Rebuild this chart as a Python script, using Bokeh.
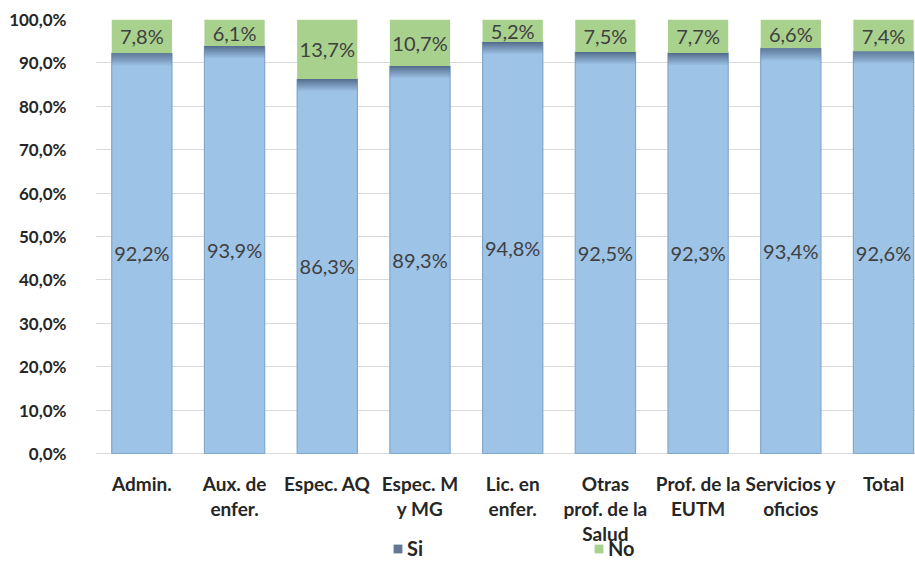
from bokeh.plotting import figure
from bokeh.models import (ColumnDataSource, Range1d, FixedTicker, Legend, LegendItem)
from bokeh.core.properties import value
from bokeh.embed import file_html
from bokeh.resources import INLINE

# Survey answer shares by staff group (percent)
categories = ["Admin.", "Aux. de\nenfer.", "Espec. AQ", "Espec. M\ny MG", "Lic. en\nenfer.",
              "Otras\nprof. de la\nSalud", "Prof. de la\nEUTM", "Servicios y\noficios", "Total"]
si_values = [92.2, 93.9, 86.3, 89.3, 94.8, 92.5, 92.3, 93.4, 92.6]
no_values = [7.8, 6.1, 13.7, 10.7, 5.2, 7.5, 7.7, 6.6, 7.4]
y_ticks = [0, 10, 20, 30, 40, 50, 60, 70, 80, 90, 100]

BLUE = "#9dc3e6"
BLUE_EDGE = "#82a8cc"
GREEN = "#a9d18e"
SLATE = "#4d6483"
LABEL = "#404040"
AXIS_TXT = "#262626"
FONT = "Lato"

W, H = 915, 563
TOP, LEFT = 19, 95
SCALE_PX = 434            # pixels spanned by 0..100 %
BELOW_PX = H - TOP - SCALE_PX   # room under the 0 % line for category names
px = 100 / SCALE_PX       # one pixel in percent units

def pct(v):
    return f"{v:.1f}".replace(".", ",") + "%"

xs = list(range(len(categories)))
no_top = [s + n for s, n in zip(si_values, no_values)]

src = ColumnDataSource(dict(
    x=xs, si=si_values, no_bottom=si_values, no_top=no_top,
    si_mid=[s / 2 for s in si_values],
    no_mid=[s + n / 2 for s, n in zip(si_values, no_values)],
    si_lbl=[pct(v) for v in si_values],
    no_lbl=[pct(v) for v in no_values],
    cat=categories,
    cat_y=[-18 * px] * len(categories),
))

p = figure(width=W, height=H, output_backend="svg", toolbar_location=None,
           x_range=Range1d(-0.5, 8.345), y_range=Range1d(-BELOW_PX * px, 100),
           min_border_left=LEFT, min_border_right=0, min_border_top=TOP,
           min_border_bottom=0, outline_line_color=None)
p.background_fill_color = "white"
p.border_fill_color = "white"

BW = 0.65
p.vbar(x="x", top="si", bottom=0, width=BW, source=src,
       fill_color=BLUE, line_color=BLUE_EDGE, line_width=1.2)
no_bars = p.vbar(x="x", top="no_top", bottom="no_bottom", width=BW, source=src,
                 fill_color=GREEN, line_color=None)

# darker shaded rim at the top of each "Si" segment
steps = 12
rims = []
for k in range(steps):
    alpha = 0.88 * (1 - k / steps)
    rims.append(p.vbar(x=xs, top=[s - k * px for s in si_values],
                       bottom=[s - (k + 1) * px for s in si_values],
                       width=BW, fill_color=SLATE, fill_alpha=alpha, line_color=None))

p.text(x="x", y="si_mid", text="si_lbl", source=src, text_align="center",
       text_baseline="middle", text_font=value(FONT), text_font_size="20px",
       text_color=LABEL)
p.text(x="x", y="no_mid", text="no_lbl", source=src, text_align="center",
       text_baseline="middle", text_font=value(FONT), text_font_size="20px",
       text_color=LABEL)

# category names under the bars
p.text(x="x", y="cat_y", text="cat", source=src, text_align="center",
       text_baseline="top", text_font=value(FONT), text_font_size="19px",
       text_font_style="bold", text_color=AXIS_TXT, text_line_height=1.1)

# axes
p.xaxis.visible = False
p.xgrid.visible = False
p.ygrid.ticker = FixedTicker(ticks=y_ticks)
p.ygrid.grid_line_color = "#d9d9d9"
p.ygrid.grid_line_width = 1
p.yaxis.ticker = FixedTicker(ticks=y_ticks)
p.yaxis.major_label_overrides = {t: pct(t) for t in y_ticks}
p.yaxis.axis_line_color = None
p.yaxis.major_tick_line_color = None
p.yaxis.minor_tick_line_color = None
p.yaxis.major_label_standoff = 23
p.yaxis.major_label_text_font = FONT
p.yaxis.major_label_text_font_size = "17px"
p.yaxis.major_label_text_font_style = "bold"
p.yaxis.major_label_text_color = AXIS_TXT

legend = Legend(items=[LegendItem(label="Si", renderers=[rims[0]]),
                       LegendItem(label="No", renderers=[no_bars])],
                orientation="horizontal", location=(297, 3),
                glyph_width=11, glyph_height=11, label_standoff=4, spacing=166,
                padding=0, margin=0, border_line_color=None,
                background_fill_alpha=0, label_height=18,
                label_text_font=FONT, label_text_font_size="20px",
                label_text_font_style="bold", label_text_color=AXIS_TXT)
p.add_layout(legend, "center")

open("out.html", "w").write(file_html(p, INLINE))
